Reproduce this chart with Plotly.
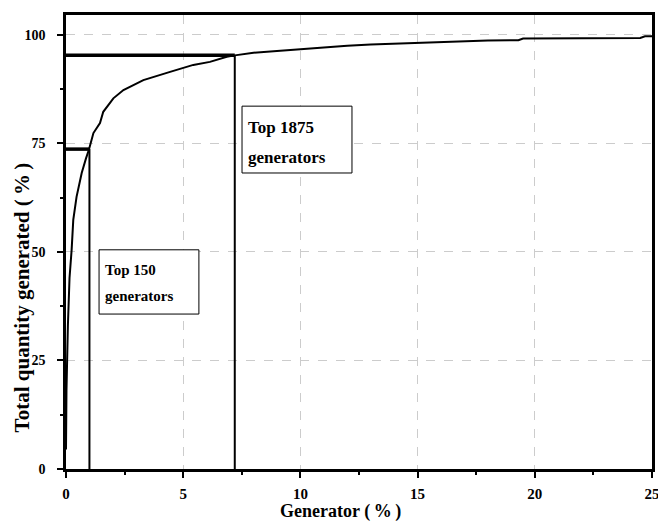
import plotly.graph_objects as go

# Cumulative curve (generator %, total quantity %)
gen_pct = [0.0, 0.02, 0.08, 0.15, 0.24, 0.31, 0.45, 0.67, 0.85, 0.98, 1.17, 1.45, 1.59, 2.02, 2.45,
           3.3, 4.44, 5.43, 6.14, 6.86, 7.2, 8.0, 9.0, 10.0, 11.0, 12.0, 13.0, 14.0, 15.0,
           16.0, 17.0, 18.0, 19.3, 19.5, 24.5, 24.7, 25.0]
qty_pct = [4.5, 18.0, 33.0, 44.0, 50.5, 57.4, 62.7, 68.2, 71.5, 73.6, 77.4, 79.7, 82.3, 85.4, 87.3,
           89.6, 91.5, 93.1, 93.8, 95.0, 95.3, 95.9, 96.3, 96.7, 97.2, 97.5, 97.8, 98.0, 98.2,
           98.3, 98.6, 98.7, 98.8, 99.2, 99.3, 99.7, 99.7]

# Markers for top generators
top_line1 = ["Top 150", "Top 1875"]
top_line2 = ["generators", "generators"]
top_x = [1.0, 7.2]
top_y = [73.7, 95.3]

x_ticks = [0, 5, 10, 15, 20, 25]
y_ticks = [0, 25, 50, 75, 100]

x_title = "Generator (\u2009%\u2009)"
y_title = "Total quantity generated (\u2009%\u2009)"

FONT = "Liberation Serif"

fig = go.Figure()
fig.add_trace(go.Scatter(x=gen_pct, y=qty_pct, mode="lines",
                         line=dict(color="black", width=2), showlegend=False))
for tx, ty in zip(top_x, top_y):
    fig.add_trace(go.Scatter(x=[0, tx], y=[ty, ty], mode="lines",
                             line=dict(color="black", width=3.5), showlegend=False))
    fig.add_trace(go.Scatter(x=[tx, tx], y=[0, ty], mode="lines",
                             line=dict(color="black", width=2), showlegend=False))

# label boxes: (x0, x1, y0, y1), text line y positions, font size
boxes = [(1.41, 5.67, 35.7, 50.5), (7.51, 12.2, 68.2, 83.6)]
line_ys = [(45.9, 39.9), (78.6, 71.7)]
sizes = [15, 17]
for (x0, x1, y0, y1), (ya, yb), l1, l2, fs in zip(boxes, line_ys, top_line1, top_line2, sizes):
    fig.add_shape(type="rect", x0=x0, x1=x1, y0=y0, y1=y1, xref="x", yref="y",
                  line=dict(color="black", width=1), fillcolor="white", layer="above")
    for yy, tt in ((ya, l1), (yb, l2)):
        fig.add_annotation(x=x0, y=yy, xref="x", yref="y", text="<b>" + tt + "</b>",
                           showarrow=False, xanchor="left", yanchor="middle", align="left",
                           xshift=4, font=dict(family=FONT, size=fs, color="black"))

# axis titles (placed off-centre as in the original)
fig.add_annotation(x=0.4676, y=0, xref="paper", yref="paper", text="<b>" + x_title + "</b>",
                   showarrow=False, xanchor="center", yanchor="middle", yshift=-42,
                   font=dict(family=FONT, size=18, color="black"))
fig.add_annotation(x=0, y=0.378, xref="paper", yref="paper", text="<b>" + y_title + "</b>",
                   showarrow=False, xanchor="center", yanchor="middle", xshift=-44, textangle=-90,
                   font=dict(family=FONT, size=21, color="black"))

axis_common = dict(showline=True, linecolor="black", linewidth=2.5, mirror=True,
                   showgrid=True, gridcolor="#cccccc", griddash="dash", gridwidth=1,
                   ticks="outside", ticklen=6, tickwidth=2, tickcolor="black",
                   zeroline=False, automargin=False, ticklabeloverflow="allow")

fig.update_xaxes(range=[0, 25], tickvals=x_ticks, ticktext=["<b>%d</b>" % v for v in x_ticks],
                 tickfont=dict(family=FONT, size=15, color="black"), ticklabelstandoff=3,
                 minor=dict(ticks="outside", ticklen=3, tickwidth=2, tickcolor="black", dtick=2.5, tick0=0),
                 **axis_common)
fig.update_yaxes(range=[0, 104.6], tickvals=y_ticks, ticktext=["<b>%d</b>" % v for v in y_ticks],
                 tickfont=dict(family=FONT, size=14, color="black"), ticklabelstandoff=9,
                 minor=dict(ticks="outside", ticklen=3, tickwidth=2, tickcolor="black", dtick=12.5, tick0=0),
                 **axis_common)

fig.update_layout(width=658, height=522, margin=dict(l=66, r=6, t=15, b=53),
                  plot_bgcolor="white", paper_bgcolor="white",
                  font=dict(family=FONT, color="black"))

fig.write_html("out.html", config={"displayModeBar": False},
               post_script="document.body.style.margin='0';document.body.style.overflow='hidden';")
